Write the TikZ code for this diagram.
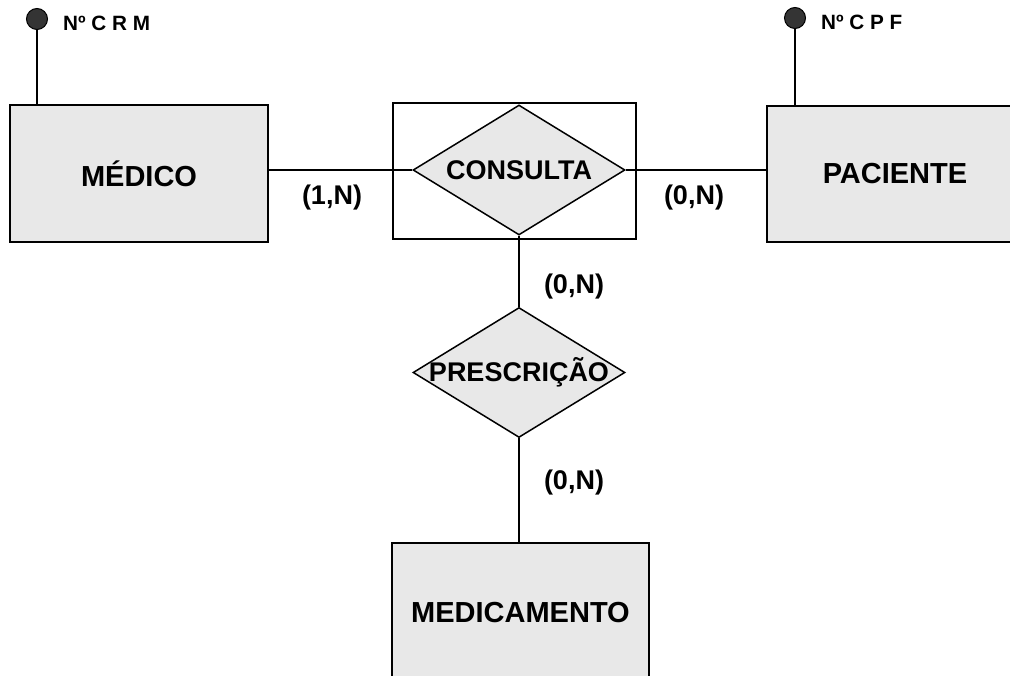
\documentclass[tikz,border=0pt]{standalone}
\usepackage{fontspec}
\setmainfont{Liberation Sans}
\usetikzlibrary{shapes.geometric}
\definecolor{boxfill}{RGB}{232,232,232}
\definecolor{dotfill}{RGB}{52,52,52}
\tikzset{
  entity/.style={draw=black, line width=2pt, fill=boxfill, inner sep=0pt,
    font=\fontsize{29}{33}\selectfont\bfseries},
  rel/.style={diamond, draw=black, line width=1.5pt, fill=boxfill, inner sep=0pt,
    aspect=1.63, minimum width=212pt, minimum height=130pt,
    font=\fontsize{27}{31}\selectfont\bfseries},
  aggbox/.style={draw=black, line width=1.8pt, inner sep=0pt},
  conn/.style={line width=1.8pt},
  card/.style={inner sep=0pt, font=\fontsize{27}{31}\selectfont\bfseries},
  attrdot/.style={circle, draw=black, line width=1pt, fill=dotfill, minimum size=21pt, inner sep=0pt},
  attrtext/.style={inner sep=0pt, anchor=west, font=\fontsize{20.7}{24}\selectfont\bfseries},
}
\begin{document}
\begin{tikzpicture}[x=1pt,y=-1pt]
\useasboundingbox (0,0) rectangle (1010,676);
\clip (0,0) rectangle (1010,676);
% aggregation box
\node[aggbox, minimum width=243pt, minimum height=136pt] (agg) at (514.5,171) {};
% entities
\node[entity, minimum width=258pt, minimum height=137pt] (medico) at (139,173.5) {MÉDICO};
\node[entity, minimum width=256pt, minimum height=136pt] (paciente) at (895,174) {PACIENTE};
\node[entity, minimum width=257pt, minimum height=140pt] (medicamento) at (520.5,613) {MEDICAMENTO};
% relationships
\node[rel] (consulta) at (519,170) {\makebox[0pt]{CONSULTA}};
\node[rel] (prescricao) at (519,372.5) {\makebox[0pt]{PRESCRIÇÃO}};
% attributes
\node[attrdot] (crm) at (37,19) {};
\node[attrtext] (crmtext) at (63,23.5) {Nº C R M};
\node[attrdot] (cpf) at (795,18) {};
\node[attrtext] (cpftext) at (821,22) {Nº C P F};
% connectors
\draw[conn] (crm.south) -- (crm |- medico.north);
\draw[conn] (cpf.south) -- (cpf |- paciente.north);
\draw[conn] (consulta.west -| medico.east) -- (consulta.west);
\draw[conn] (consulta.east) -- (consulta.east -| paciente.west);
\draw[conn] (consulta.south) -- (prescricao.north);
\draw[conn] (prescricao.south) -- (prescricao.south |- medicamento.north);
% cardinalities
\node[card] (c1) at (332,198) {(1,N)};
\node[card] (c2) at (694,198) {(0,N)};
\node[card] (c3) at (574,287) {(0,N)};
\node[card] (c4) at (574,483) {(0,N)};
\end{tikzpicture}
\end{document}
